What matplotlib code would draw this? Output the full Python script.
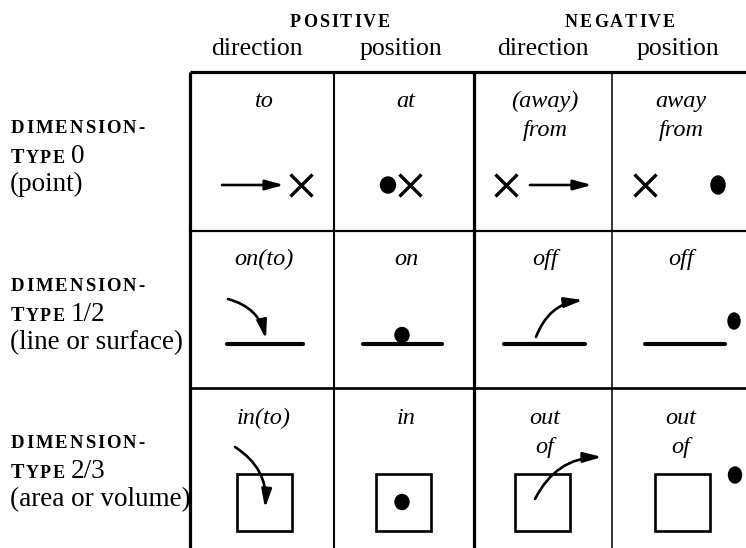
import matplotlib
matplotlib.use("Agg")
import matplotlib.pyplot as plt
from matplotlib.patches import Rectangle, Ellipse

SERIF = "Liberation Serif"

# table content
group_heads = ["POSITIVE", "NEGATIVE"]
col_heads = ["direction", "position", "direction", "position"]
row_types = ["0", "1/2", "2/3"]
row_kinds = ["(point)", "(line or surface)", "(area or volume)"]
cell_words = [
    ["to", "at", "(away)\nfrom", "away\nfrom"],
    ["on(to)", "on", "off", "off"],
    ["in(to)", "in", "out\nof", "out\nof"],
]

# grid (pixel units of the page)
col_edges = [190, 334, 474, 612, 746]
row_edges = [72, 231, 388, 548]
col_mid = [(a + b) / 2 for a, b in zip(col_edges[:-1], col_edges[1:])]

fig = plt.figure(figsize=(7.46, 5.48), dpi=100)
ax = fig.add_axes([0, 0, 1, 1])
ax.set_xlim(0, 746)
ax.set_ylim(548, 0)
ax.axis("off")
rend = fig.canvas.get_renderer()


def text_width(s, **kw):
    t = ax.text(0, 0, s, **kw)
    w = t.get_window_extent(rend).width
    t.remove()
    return w


def spaced(x, y, s, size, gap, ha="left", **kw):
    # letter-spaced caps, like the small caps of the print
    ws = [text_width(c, fontsize=size, family=SERIF, **kw) for c in s]
    total = sum(ws) + gap * (len(s) - 1)
    if ha == "center":
        x -= total / 2
    for c, w in zip(s, ws):
        ax.text(x, y, c, fontsize=size, family=SERIF, va="baseline", **kw)
        x += w + gap
    return x


# headers
for gx, g in zip([340, 620], group_heads):
    spaced(gx, 27, g, 13, 2.0, ha="center", fontweight="bold")
for cx, h in zip([257, 401, 543, 678], col_heads):
    ax.text(cx, 55, h, fontsize=18.5, family=SERIF, ha="center", va="baseline")

# row labels
label_base = [133, 291, 448]
for yb, tp, kind in zip(label_base, row_types, row_kinds):
    spaced(11, yb, "DIMENSION-", 13.5, 1.9, fontweight="bold")
    x = spaced(11, yb + 30, "T", 14.5, 0, fontweight="bold")
    x = spaced(x + 1, yb + 30, "YPE", 13, 1.4, fontweight="bold")
    ax.text(x + 5, yb + 30, tp, fontsize=19.5, family=SERIF, va="baseline")
    ax.text(10, yb + 58, kind, fontsize=19.5, family=SERIF, va="baseline")

# italic prepositions
word_base = [107, 265, 424]
for r, words in enumerate(cell_words):
    for c, w in enumerate(words):
        for k, part in enumerate(w.split("\n")):
            ax.text(col_mid[c] + 2, word_base[r] + 29 * k, part, fontsize=17.5,
                    family=SERIF, style="italic", ha="center", va="baseline")

# table rules
ax.plot([190, 746], [72, 72], color="k", lw=2.3, solid_capstyle="butt")
ax.plot([190, 746], [231, 231], color="k", lw=1.6)
ax.plot([190, 746], [388, 388], color="k", lw=1.9)
for x, lw in zip(col_edges[:-1], [2.3, 1.5, 2.3, 1.1]):
    ax.plot([x, x], [72, 548], color="k", lw=lw, solid_capstyle="butt")

ink = dict(color="k")
head = "-|>,head_length=1.1,head_width=0.3"


def arrow(p0, p1, rad=0.0):
    ax.annotate("", xy=p1, xytext=p0,
                arrowprops=dict(arrowstyle=head, mutation_scale=10, lw=1.9,
                                color="k", shrinkA=0, shrinkB=0,
                                connectionstyle=f"arc3,rad={rad}"))


def cross(x, y):
    ax.plot(x, y, marker="x", ms=16, mew=2.4, **ink)


def dot(x, y, w=15, h=16):
    ax.add_patch(Ellipse((x, y), w, h, color="k"))


def surface(x0, x1, y=344):
    ax.plot([x0, x1], [y, y], lw=3, solid_capstyle="round", **ink)


def box(x, y, w=55, h=57):
    ax.add_patch(Rectangle((x, y), w, h, fill=False, lw=1.9, ec="k"))


# row 0: point
arrow((222, 185), (284, 185))
cross(301, 185)
dot(388, 185)
cross(410, 185)
cross(506, 185)
arrow((530, 185), (592, 185))
cross(645, 185)
dot(718, 185, 14, 18)

# row 1: line or surface
surface(227, 303)
arrow((228, 299), (266, 339), rad=-0.3)
surface(363, 442)
dot(402, 335, 14, 15)
surface(504, 585)
arrow((536, 337), (583, 300), rad=-0.3)
surface(645, 725)
dot(734, 321, 12, 16)

# row 2: area or volume
box(237, 474)
arrow((235, 447), (265, 508), rad=-0.3)
box(376, 474)
dot(402, 502, 14, 15)
box(515, 474)
arrow((535, 499), (602, 457), rad=-0.3)
box(655, 474)
dot(735, 475, 13, 16)

fig.savefig("out.png", dpi=100, facecolor="white")
